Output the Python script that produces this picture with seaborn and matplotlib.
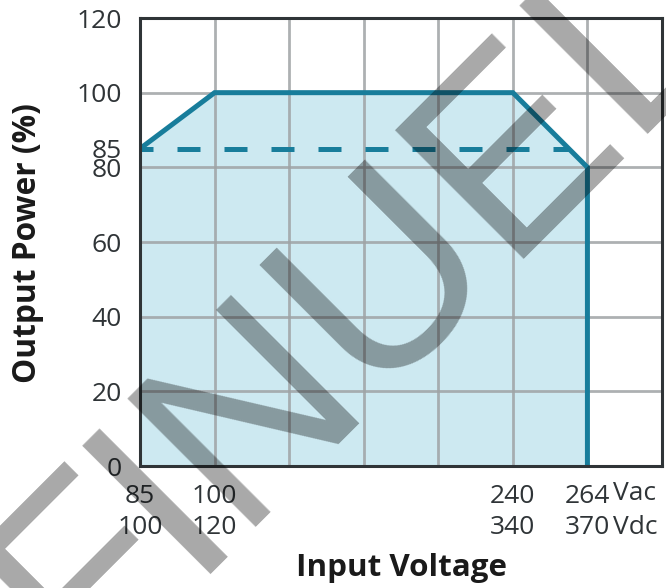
import matplotlib
matplotlib.use("Agg")
import matplotlib.pyplot as plt
import seaborn as sns
import pandas as pd

# ---- data ----
tick_pos = [0, 1, 5, 6]
ac_ticks = ["85", "100", "240", "264"]
dc_ticks = ["100", "120", "340", "370"]
curve_x = [0, 1, 5, 6, 6]
curve_y = [85, 100, 100, 80, 0]
derate_x = [0, 5.75]
derate_y = [85, 85]
y_ticks = [0, 20, 40, 60, 80, 85, 100, 120]
unit_labels = ["Vac", "Vdc"]
wm_letters = ["F", "I", "N", "U", "E", "L"]

sns.set_theme(style="white")
plt.rcParams["font.family"] = ["Open Sans", "DejaVu Sans"]

LINE = "#187d9b"
FILL = "#cde9f1"
GRID = "#9fa3a5"
TXT = "#2f3437"

fig = plt.figure(figsize=(6.66, 5.88), dpi=100)
ax = fig.add_axes([140/666, (588-466)/588, (662-140)/666, (466-18)/588])

curve = pd.DataFrame({"x": curve_x, "y": curve_y})
derate = pd.DataFrame({"x": derate_x, "y": derate_y})

ax.fill_between(curve_x, curve_y, 0, color=FILL, zorder=1, lw=0)
sns.lineplot(data=curve, x="x", y="y", sort=False, estimator=None,
             color=LINE, lw=3.6, ax=ax, zorder=4)
sns.lineplot(data=derate, x="x", y="y", sort=False, estimator=None,
             color=LINE, lw=3.6, ax=ax, zorder=4,
             linestyle=(2.0, (4.6, 4.8)), dash_capstyle="butt")
for ln in ax.lines:
    ln.set_solid_joinstyle("miter")
    ln.set_solid_capstyle("butt")

ax.set_xlim(0, 7)
ax.set_ylim(0, 120)
for v in range(0, 8):
    ax.axvline(v, color=GRID, lw=2.0, zorder=2, alpha=0.85)
for v in range(0, 121, 20):
    ax.axhline(v, color=GRID, lw=2.0, zorder=2, alpha=0.85)

ax.set_xticks(tick_pos)
ax.set_xticklabels([f"{a}\n{d}" for a, d in zip(ac_ticks, dc_ticks)],
                   fontsize=19, color=TXT, linespacing=1.3)
ax.set_yticks(y_ticks)
ax.set_yticklabels([str(v) for v in y_ticks], fontsize=19, color=TXT)
ax.tick_params(axis="both", length=0)
ax.tick_params(axis="x", pad=13)
ax.tick_params(axis="y", pad=13)

for i, u in enumerate(unit_labels):
    ax.annotate(u, xy=(6, 0), xycoords="data", xytext=(26, -28 - 34*i),
                textcoords="offset pixels", ha="left", va="center",
                fontsize=19, color=TXT)

for s in ax.spines.values():
    s.set_color(TXT)
    s.set_linewidth(2.2)
    s.set_zorder(5)

ax.set_xlabel("")
ax.set_ylabel("")
fig.text(401/666, 1 - 568/588, "Input Voltage", ha="center", va="center",
         fontsize=22.6, fontweight="bold", color="#1a1a1a")
fig.text(28/666, 1 - 243/588, "Output Power (%)", ha="center", va="center",
         rotation=90, fontsize=22.8, fontweight="bold", color="#1a1a1a")

# watermark: letters placed along a 45-degree baseline (x + y = 761 px)
wm_pos = [81, 187, 234, 368, 502, 627]
for ch, px in zip(wm_letters, wm_pos):
    fig.text(px/666, (px - 173)/588, ch, ha="left", va="baseline",
             rotation=45, rotation_mode="anchor", fontsize=189,
             family=["Liberation Sans", "DejaVu Sans"],
             color="black", alpha=0.34, zorder=10)

fig.savefig("out.png", dpi=100)
